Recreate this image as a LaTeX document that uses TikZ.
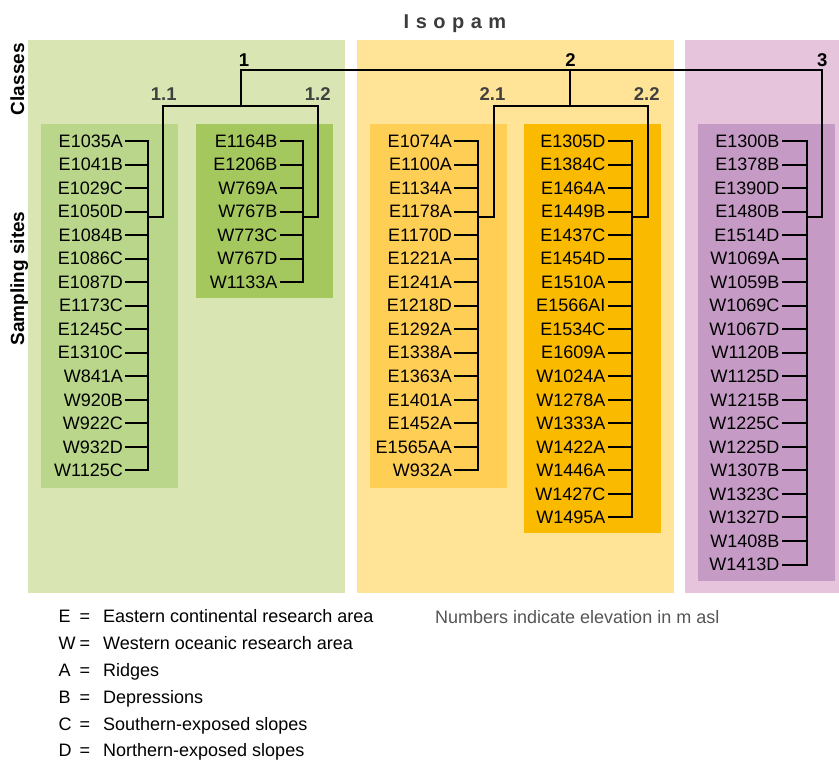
\documentclass[tikz,border=0pt]{standalone}
\usepackage{fontspec}
\setmainfont{Liberation Sans}
\definecolor{gA}{RGB}{217,229,178}
\definecolor{gB}{RGB}{185,214,139}
\definecolor{gC}{RGB}{164,199,94}
\definecolor{yA}{RGB}{255,227,150}
\definecolor{yB}{RGB}{255,206,85}
\definecolor{yC}{RGB}{250,186,0}
\definecolor{pA}{RGB}{230,196,219}
\definecolor{pB}{RGB}{197,155,198}
\definecolor{subgray}{RGB}{64,64,64}
\definecolor{titlegray}{RGB}{60,60,60}
\definecolor{notegray}{RGB}{85,85,85}
% #1 prefix, #2 label right x, #3 bar x, #4 last index, #5 list
\newcommand\sitecol[5]{%
  \foreach \s [count=\i from 0] in {#5} {
    \node[site] (#1\i) at (#2,{141+\i*23.53}) {\s};
    \coordinate (#1b\i) at (#3,{141+\i*23.53});
    \draw[tree] ([xshift=3pt]#1\i.east) -- (#1b\i);
  }
  \draw[tree] (#1b0) -- (#1b#4);
}
\begin{document}
\begin{tikzpicture}[x=1pt,y=-1pt,
  site/.style={anchor=east, inner sep=0pt, font=\fontsize{18}{20}\selectfont},
  tree/.style={line width=2pt, draw=black, line join=miter, line cap=rect},
  cls/.style={font=\bfseries\fontsize{18.5}{20}\selectfont, inner sep=0pt},
  subcls/.style={cls, text=subgray},
  leg/.style={anchor=base west, inner sep=0pt, font=\fontsize{18}{20}\selectfont},
  legeq/.style={anchor=base, inner sep=0pt, font=\fontsize{18}{20}\selectfont},
  side/.style={rotate=90, anchor=base, inner sep=0pt, font=\bfseries\fontsize{19}{20}\selectfont}]
\useasboundingbox (0,0) rectangle (839,760);
% backgrounds
\fill[gA] (28,40) rectangle (345,593);
\fill[yA] (357,40) rectangle (674,593);
\fill[pA] (685,40) rectangle (839,593);
\fill[gB] (41,124) rectangle (178,488);
\fill[gC] (196,124) rectangle (333,298);
\fill[yB] (370,124) rectangle (507,488);
\fill[yC] (524,124) rectangle (661,533);
\fill[pB] (698,124) rectangle (835,581);
% title and side labels
\node[inner sep=0pt, anchor=base, text=titlegray, font=\bfseries\fontsize{20}{22}\selectfont] (title) at (455,28.3)
  {I\kern6.5pt s\kern6.5pt o\kern6.5pt p\kern6.5pt a\kern6.5pt m};
\node[side] (classes) at (24,79.2) {Classes};
\node[side] (sampling) at (24,278.5) {Sampling sites};
% sites
\sitecol{sa}{123}{148.3}{14}{E1035A,E1041B,E1029C,E1050D,E1084B,E1086C,E1087D,E1173C,E1245C,E1310C,W841A,W920B,W922C,W932D,W1125C}
\sitecol{sb}{277.7}{303.3}{6}{E1164B,E1206B,W769A,W767B,W773C,W767D,W1133A}
\sitecol{sc}{452}{478.3}{14}{E1074A,E1100A,E1134A,E1178A,E1170D,E1221A,E1241A,E1218D,E1292A,E1338A,E1363A,E1401A,E1452A,E1565AA,W932A}
\sitecol{sd}{605.5}{632.3}{16}{E1305D,E1384C,E1464A,E1449B,E1437C,E1454D,E1510A,E1566AI,E1534C,E1609A,W1024A,W1278A,W1333A,W1422A,W1446A,W1427C,W1495A}
\sitecol{se}{779.5}{806.7}{18}{E1300B,E1378B,E1390D,E1480B,E1514D,W1069A,W1059B,W1069C,W1067D,W1120B,W1125D,W1215B,W1225C,W1225D,W1307B,W1323C,W1327D,W1408B,W1413D}
% tree coordinates
\coordinate (k11) at (148.3,217);
\coordinate (k12) at (303.3,217);
\coordinate (k21) at (478.3,217);
\coordinate (k22) at (632.3,217);
\coordinate (k3) at (806.7,217);
\coordinate (n11) at (163.3,106);
\coordinate (n12) at (318.3,106);
\coordinate (n21) at (494,106);
\coordinate (n22) at (648.3,106);
\coordinate (n1) at (241,70);
\coordinate (n2) at (570.3,70);
\coordinate (n3) at (821.7,70);
\draw[tree] (k11) -| (n11) -- (n12) |- (k12);
\draw[tree] (k21) -| (n21) -- (n22) |- (k22);
\draw[tree] (n1 |- n11) -- (n1) -- (n3) |- (k3);
\draw[tree] (n2 |- n21) -- (n2);
% class labels
\node[cls] (L1) at (244,60) {1};
\node[cls] (L2) at (570.5,60) {2};
\node[cls] (L3) at (822.3,60) {3};
\node[subcls] (L11) at (163.7,94) {1.1};
\node[subcls] (L12) at (317.8,94) {1.2};
\node[subcls] (L21) at (492.5,94) {2.1};
\node[subcls] (L22) at (646.7,94) {2.2};
% legend
\foreach \k/\d [count=\j from 0] in {E/Eastern continental research area, W/Western oceanic research area, A/Ridges, B/Depressions, C/Southern-exposed slopes, D/Northern-exposed slopes} {
  \node[leg] (lk\j) at (58.5,{622.7+\j*26.85}) {\k};
  \node[legeq] (le\j) at (85,{622.7+\j*26.85}) {=};
  \node[leg] (ld\j) at (103,{622.7+\j*26.85}) {\d};
}
\node[leg, text=notegray] (note) at (435,623.4) {Numbers indicate elevation in m asl};
\end{tikzpicture}
\end{document}
